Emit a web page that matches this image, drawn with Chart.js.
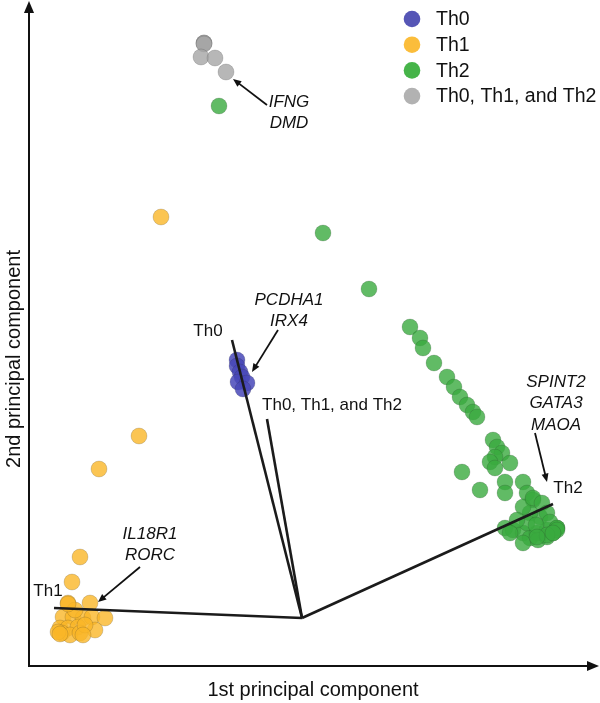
<!DOCTYPE html>
<html>
<head>
<meta charset="utf-8">
<script src="https://cdn.jsdelivr.net/npm/chart.js@4/dist/chart.umd.min.js"></script>
<style>
  html, body { margin:0; padding:0; background:#fff; }
  #wrap { width:600px; height:703px; }
</style>
</head>
<body>
<div id="wrap"><canvas id="pca" width="600" height="703"></canvas></div>
<script>
// scores (arbitrary PC units, no ticks shown)
var th0X = [208, 208, 211, 213, 209, 218, 214];
var th0Y = [306, 300, 294, 289, 284, 283, 277];

var th1X = [132, 110, 70, 51, 43, 39, 61, 34, 44, 54, 63, 76, 31, 39, 49, 66, 33, 41, 51, 29, 31, 56, 46, 39, 54];
var th1Y = [449, 230, 197, 109, 84, 63, 63, 49, 49, 48, 49, 48, 38, 38, 39, 36, 33, 31, 33, 34, 32, 41, 56, 62, 31];

var th2X = [190, 294, 340, 381, 391, 394, 405, 418, 425, 431, 438, 444, 448,
            464, 468, 473, 466, 481, 461, 466, 433, 476, 451, 476, 494, 498, 504,
            476, 484, 494, 501, 508, 518, 528, 511, 501, 494, 504, 513, 518, 498, 488, 481, 494, 509, 518, 524, 521, 507,
            528, 528, 518, 508, 524];
var th2Y = [560, 433, 377, 339, 328, 318, 303, 289, 279, 269, 261, 254, 249,
            226, 219, 213, 209, 203, 204, 198, 194, 184, 176, 173, 184, 173, 166,
            138, 136, 133, 128, 133, 136, 138, 149, 153, 159, 168, 163, 153, 143, 146, 133, 123, 126, 129, 133, 144, 141,
            138, 136, 131, 129, 133];

var allX = [175, 175, 175, 172, 186, 197];
var allY = [623, 623, 622, 609, 608, 594];

var groupNames = ['Th0', 'Th1', 'Th2', 'Th0, Th1, and Th2'];
var groupColors = ['#5656b6', '#fbbd3b', '#46b449', '#b2b2b2'];
var groupFills = ['rgba(72,72,184,0.85)', 'rgba(250,182,40,0.8)', 'rgba(58,170,62,0.8)', 'rgba(165,165,165,0.8)'];

// loading vectors
var vecOrigin = [273, 48];
var vecNames = ['Th0', 'Th1', 'Th2', 'Th0, Th1, and Th2'];
var vecEndX = [203, 25, 524, 238];
var vecEndY = [326, 58, 162, 247];

// gene callouts
var geneText = [['IFNG', 'DMD'], ['PCDHA1', 'IRX4'], ['SPINT2', 'GATA3', 'MAOA'], ['IL18R1', 'RORC']];
var geneTextX = [260, 260, 527, 121];
var geneTextY = [564, 366, 284, 132];
var geneFromX = [238, 249, 506, 111];
var geneFromY = [561, 336, 233, 99];
var geneToX = [204, 223, 518, 69];
var geneToY = [587, 294, 184, 64];

// vector label spots
var vecLabelX = [179, 19, 539, 303];
var vecLabelY = [335, 75, 178, 261];

function pts(xs, ys) {
  var out = [];
  for (var i = 0; i < xs.length; i++) out.push({x: xs[i], y: ys[i]});
  return out;
}

var datasets = [];
for (var v = 0; v < vecNames.length; v++) {
  datasets.push({
    type: 'line',
    label: vecNames[v],
    data: [{x: vecOrigin[0], y: vecOrigin[1]}, {x: vecEndX[v], y: vecEndY[v]}],
    borderColor: '#1b1b1b',
    borderWidth: 2.6,
    pointRadius: 0,
    showLine: true,
    order: 0,
    clip: false
  });
}
var groupX = [th0X, th1X, th2X, allX];
var groupY = [th0Y, th1Y, th2Y, allY];
for (var g = 0; g < 4; g++) {
  datasets.push({
    type: 'scatter',
    label: groupNames[g],
    data: pts(groupX[g], groupY[g]),
    backgroundColor: groupFills[g],
    borderColor: 'rgba(40,40,40,0.22)',
    borderWidth: 0.8,
    pointRadius: 8,
    order: 1,
    clip: false
  });
}

function arrow(ctx, x1, y1, x2, y2, w, head) {
  var a = Math.atan2(y2 - y1, x2 - x1);
  ctx.beginPath();
  ctx.moveTo(x1, y1);
  ctx.lineTo(x2 - Math.cos(a) * head * 0.8, y2 - Math.sin(a) * head * 0.8);
  ctx.lineWidth = w;
  ctx.stroke();
  ctx.beginPath();
  ctx.moveTo(x2, y2);
  ctx.lineTo(x2 - head * Math.cos(a - 0.4), y2 - head * Math.sin(a - 0.4));
  ctx.lineTo(x2 - head * Math.cos(a + 0.4), y2 - head * Math.sin(a + 0.4));
  ctx.closePath();
  ctx.fill();
}

var extras = {
  id: 'extras',
  afterDatasetsDraw: function(chart) {
    var ctx = chart.ctx, sx = chart.scales.x, sy = chart.scales.y;
    var L = sx.getPixelForValue(0), B = sy.getPixelForValue(0);
    ctx.save();
    ctx.strokeStyle = '#111';
    ctx.fillStyle = '#111';
    // axes with arrow heads
    arrow(ctx, L, B, L, 1, 2, 13);
    arrow(ctx, L - 1, B, 599, B, 2, 13);

    // gene arrows + italic names
    ctx.textAlign = 'center';
    ctx.textBaseline = 'middle';
    for (var i = 0; i < geneText.length; i++) {
      arrow(ctx, sx.getPixelForValue(geneFromX[i]), sy.getPixelForValue(geneFromY[i]),
            sx.getPixelForValue(geneToX[i]), sy.getPixelForValue(geneToY[i]), 1.8, 9);
      ctx.font = 'italic 17px "Liberation Sans", Arial, sans-serif';
      for (var k = 0; k < geneText[i].length; k++) {
        ctx.fillText(geneText[i][k], sx.getPixelForValue(geneTextX[i]), sy.getPixelForValue(geneTextY[i]) + k * 21.5);
      }
    }
    // vector labels
    ctx.font = '17px "Liberation Sans", Arial, sans-serif';
    for (var j = 0; j < vecNames.length; j++) {
      ctx.fillText(vecNames[j], sx.getPixelForValue(vecLabelX[j]), sy.getPixelForValue(vecLabelY[j]));
    }
    // axis titles
    ctx.font = '20px "Liberation Sans", Arial, sans-serif';
    ctx.fillText('1st principal component', 313, 690);
    ctx.save();
    ctx.translate(14, 359);
    ctx.rotate(-Math.PI / 2);
    ctx.fillText('2nd principal component', 0, 0);
    ctx.restore();

    // legend
    ctx.textAlign = 'left';
    ctx.font = '19.5px "Liberation Sans", Arial, sans-serif';
    for (var g = 0; g < groupNames.length; g++) {
      var ly = 19 + g * 25.7;
      ctx.beginPath();
      ctx.arc(412, ly, 8.3, 0, Math.PI * 2);
      ctx.fillStyle = groupColors[g];
      ctx.fill();
      ctx.fillStyle = '#111';
      ctx.fillText(groupNames[g], 436, ly + 1);
    }
    ctx.restore();
  }
};

new Chart(document.getElementById('pca'), {
  type: 'scatter',
  data: { datasets: datasets },
  options: {
    responsive: false,
    animation: false,
    layout: { autoPadding: false, padding: { left: 29, right: 1, top: 5, bottom: 37 } },
    scales: {
      x: { type: 'linear', min: 0, max: 570, display: false },
      y: { type: 'linear', min: 0, max: 661, display: false }
    },
    plugins: { legend: { display: false }, tooltip: { enabled: false } }
  },
  plugins: [extras]
});
</script>
</body>
</html>
